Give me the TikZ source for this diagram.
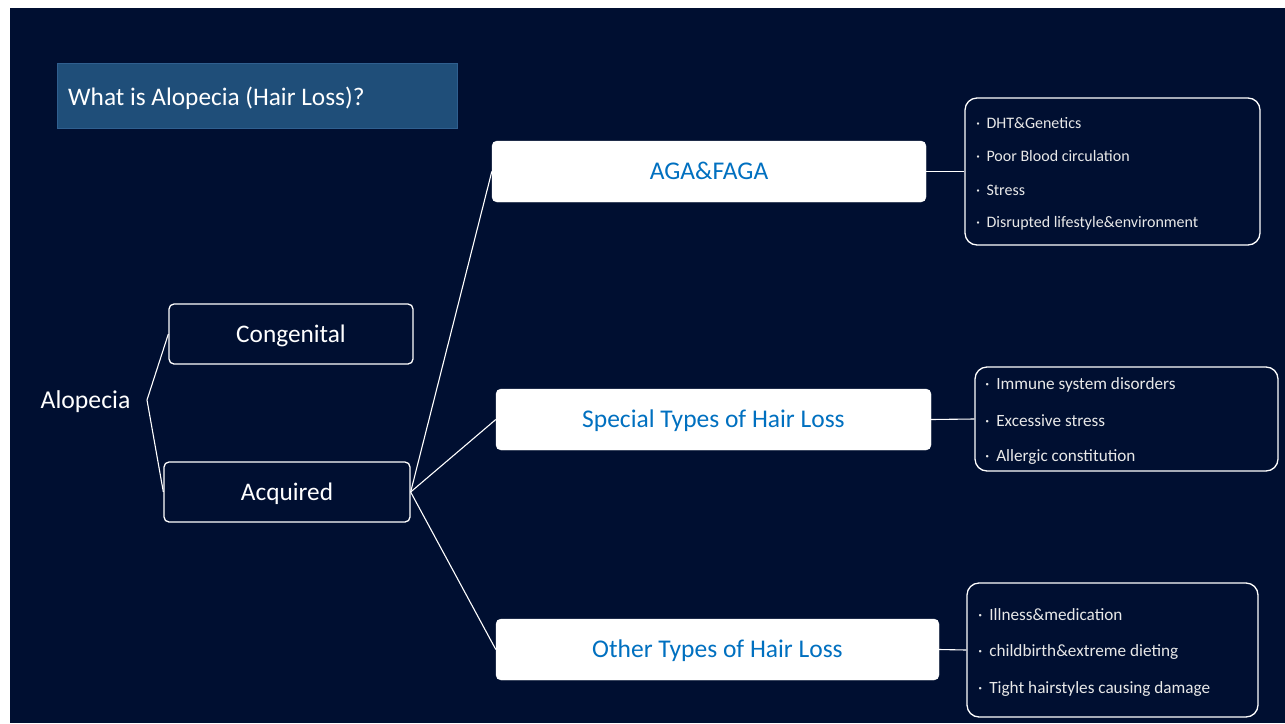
\documentclass[tikz,border=0pt]{standalone}
\usepackage{fontspec}
\setmainfont{Carlito}
\definecolor{bgnavy}{HTML}{000F31}
\definecolor{titlefill}{HTML}{1F4E79}
\definecolor{titleedge}{HTML}{2F5F8F}
\definecolor{bluetxt}{HTML}{0070C0}
\definecolor{lighttxt}{HTML}{E8E8E8}
\tikzset{
  px/.style={x=1pt,y=-1pt},
  darkbox/.style={draw=white, line width=1.3pt, fill=bgnavy, rounded corners=5pt, inner sep=0pt, text=white, text height=19pt, text depth=3pt, font=\fontsize{25.3}{28}\selectfont},
  whitebox/.style={draw=white, fill=white, rounded corners=5pt, inner sep=0pt, text=bluetxt, text height=19pt, text depth=3pt, font=\fontsize{25.5}{28}\selectfont},
  listbox/.style={draw=white, line width=1.3pt, fill=bgnavy, rounded corners=12pt, inner sep=0pt},
  listtxt/.style={anchor=west, inner sep=0pt, text=lighttxt, font=\fontsize{16}{18}\selectfont},
  listtxtb/.style={listtxt, font=\fontsize{17.2}{20}\selectfont},
  conn/.style={draw=white, line width=1.1pt},
}
\begin{document}
\begin{tikzpicture}[px]
\useasboundingbox (0,0) rectangle (1285,723);
\fill[white] (0,0) rectangle (1285,723);
\fill[bgnavy] (10,8) rectangle (1285,723);
% title
\node[draw=titleedge, line width=1pt, fill=titlefill, minimum width=400pt, minimum height=65pt, inner sep=0pt] (title) at (257,95.5) {};
\node[anchor=west, inner sep=0pt, text=white, font=\fontsize{25.3}{28}\selectfont] (titletxt) at (68,98) {What is Alopecia (Hair Loss)?};
% root
\node[inner sep=0pt, text=white, font=\fontsize{25.7}{28}\selectfont] (alo) at (85.5,402) {Alopecia};
\coordinate (j) at (147,400);
% level 1
\node[darkbox, minimum width=244pt, minimum height=60pt] (cong) at (291,334) {Congenital};
\node[darkbox, minimum width=246pt, minimum height=60pt] (acq) at (287,492) {Acquired};
% level 2
\node[whitebox, minimum width=434pt, minimum height=61pt] (aga) at (709,171.5) {AGA\&FAGA};
\node[whitebox, minimum width=435pt, minimum height=61pt] (spec) at (713.5,419.5) {Special Types of Hair Loss};
\node[whitebox, minimum width=443pt, minimum height=61pt] (oth) at (717.5,649.5) {Other Types of Hair Loss};
% lists
\node[listbox, minimum width=295pt, minimum height=147pt] (l1) at (1112.5,171.5) {};
\node[listbox, minimum width=303pt, minimum height=104pt] (l2) at (1126.5,419) {};
\node[listbox, minimum width=291pt, minimum height=134pt] (l3) at (1112.5,650) {};
\node[listtxt] (l1a) at (976,123) {·\, DHT\&Genetics};
\node[listtxt] (l1b) at (976,156.5) {·\, Poor Blood circulation};
\node[listtxt] (l1c) at (976,190) {·\, Stress};
\node[listtxt] (l1d) at (976,223.5) {·\, Disrupted lifestyle\&environment};
\node[listtxtb] (l2a) at (985,384.5) {·\, Immune system disorders};
\node[listtxtb] (l2b) at (985,421) {·\, Excessive stress};
\node[listtxtb] (l2c) at (985,457.5) {·\, Allergic constitution};
\node[listtxtb] (l3a) at (978,615) {·\, Illness\&medication};
\node[listtxtb] (l3b) at (978,652) {·\, childbirth\&extreme dieting};
\node[listtxtb] (l3c) at (978,689) {·\, Tight hairstyles causing damage};
% connectors
\draw[conn] (cong.west) -- (j) -- (acq.west);
\draw[conn] (acq.east) -- (aga.west);
\draw[conn] (acq.east) -- (spec.west);
\draw[conn] (acq.east) -- (oth.west);
\draw[conn] (aga.east) -- (l1.west);
\draw[conn] (spec.east) -- (l2.west);
\draw[conn] (oth.east) -- (l3.west);
\end{tikzpicture}
\end{document}
